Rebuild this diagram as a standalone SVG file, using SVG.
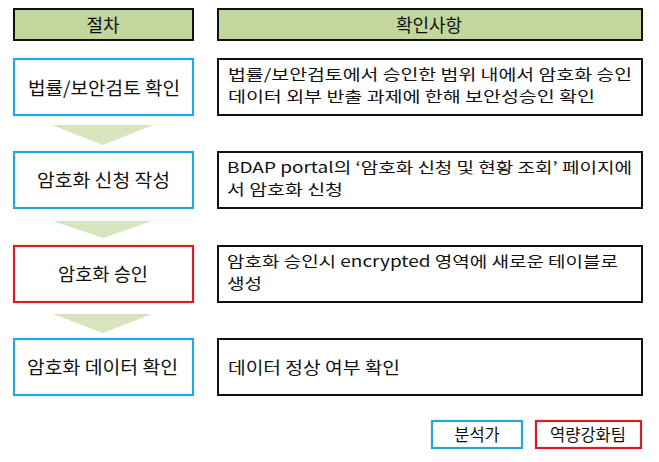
<svg xmlns="http://www.w3.org/2000/svg" width="659" height="462" viewBox="0 0 659 462">
<style>
text{font-family:"Noto Sans CJK KR","Noto Sans",sans-serif;fill:#111;}
.hdr{fill:#c3d69b;stroke:#111;stroke-width:2;}
.blue{fill:#fff;stroke:#22a7df;stroke-width:2.2;}
.red{fill:#fff;stroke:#dc1a1f;stroke-width:2.2;}
.blk{fill:#fff;stroke:#111;stroke-width:2;}
.arr{fill:#d7e4bd;}
.l{font-size:18px;}
.r{font-size:15px;}
.s{font-size:16.5px;}
.c{text-anchor:middle;}
</style>
<rect width="659" height="462" fill="#fff"/>
<g id="header-procedure"><rect class="hdr" x="14" y="9" width="179" height="31"/><text class="l c" x="103" y="32">절차</text></g>
<g id="header-check"><rect class="hdr" x="218" y="9" width="424" height="31"/><text class="l c" x="429" y="32">확인사항</text></g>

<g id="connectors">
<polygon class="arr" points="52,125 153,125 103,145"/>
<polygon class="arr" points="53,221 152,221 103,238"/>
<polygon class="arr" points="53,314 152,314 103,333"/>
</g>

<g id="step1"><rect class="blue" x="14" y="59" width="179" height="56"/><text class="l" x="28" y="95" textLength="152" lengthAdjust="spacingAndGlyphs">법률/보안검토 확인</text></g>
<g id="step2"><rect class="blue" x="14" y="152" width="179" height="56"/><text class="l" x="37" y="187" textLength="133" lengthAdjust="spacingAndGlyphs">암호화 신청 작성</text></g>
<g id="step3"><rect class="red" x="14" y="246" width="179" height="56"/><text class="l" x="58" y="281" textLength="90" lengthAdjust="spacingAndGlyphs">암호화 승인</text></g>
<g id="step4"><rect class="blue" x="14" y="339" width="179" height="56"/><text class="l" x="27" y="374" textLength="151" lengthAdjust="spacingAndGlyphs">암호화 데이터 확인</text></g>

<g id="check1"><rect class="blk" x="218" y="59" width="424" height="56"/>
<text class="r"><tspan x="228" y="80" textLength="404" lengthAdjust="spacingAndGlyphs">법률/보안검토에서 승인한 범위 내에서 암호화 승인</tspan><tspan x="228" y="102" textLength="367" lengthAdjust="spacingAndGlyphs">데이터 외부 반출 과제에 한해 보안성승인 확인</tspan></text></g>
<g id="check2"><rect class="blk" x="218" y="152" width="424" height="56"/>
<text class="r"><tspan x="227" y="173" textLength="405" lengthAdjust="spacingAndGlyphs">BDAP portal의 ‘암호화 신청 및 현황 조회’ 페이지에</tspan><tspan x="227" y="195" textLength="116" lengthAdjust="spacingAndGlyphs">서 암호화 신청</tspan></text></g>
<g id="check3"><rect class="blk" x="218" y="246" width="424" height="56"/>
<text class="r"><tspan x="227" y="267" textLength="391" lengthAdjust="spacingAndGlyphs">암호화 승인시 encrypted 영역에 새로운 테이블로</tspan><tspan x="227" y="289" textLength="35" lengthAdjust="spacingAndGlyphs">생성</tspan></text></g>
<g id="check4"><rect class="blk" x="218" y="339" width="424" height="56"/>
<text class="s" x="228" y="374" textLength="172" lengthAdjust="spacingAndGlyphs">데이터 정상 여부 확인</text></g>

<g id="legend-analyst"><rect class="blue" x="432" y="421" width="90" height="27"/><text class="s c" x="477" y="441">분석가</text></g>
<g id="legend-team"><rect class="red" x="536" y="421" width="105" height="27"/><text class="s c" x="588" y="441">역량강화팀</text></g>
</svg>
